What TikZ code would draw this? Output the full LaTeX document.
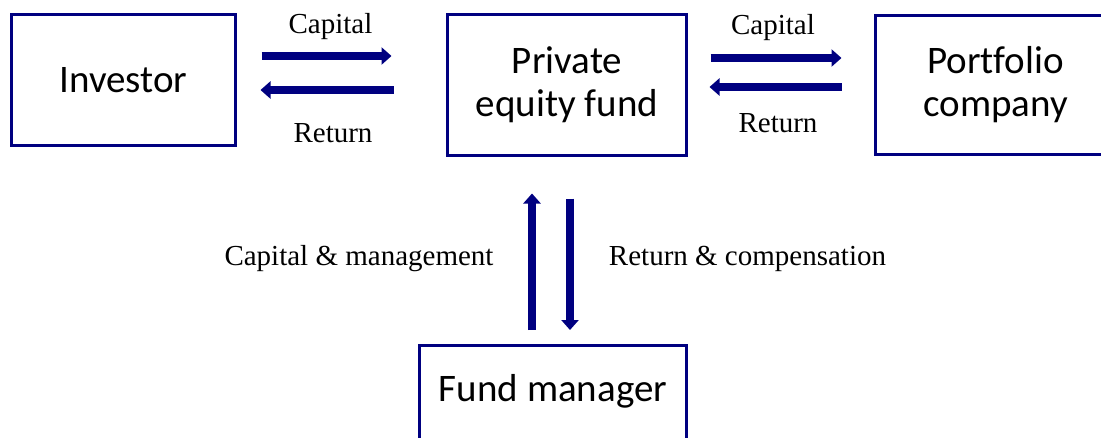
\documentclass[tikz,border=0pt]{standalone}
\usepackage{fontspec}
\setmainfont{Liberation Serif}
\newfontfamily\boxfont[Ligatures=NoCommon]{Carlito}
\usetikzlibrary{arrows.meta}
\definecolor{mynavy}{RGB}{0,0,128}
\begin{document}
\begin{tikzpicture}[x=1pt,y=-1pt,
  box/.style={draw=mynavy, line width=3pt, rectangle, inner sep=0pt, align=center,
    font=\boxfont\fontsize{39}{43}\selectfont},
  boxtext/.style={inner sep=0pt, font=\boxfont\fontsize{39}{43}\selectfont},
  lbl/.style={font=\fontsize{29}{33}\selectfont, anchor=base, inner sep=0pt},
  flow/.style={draw=mynavy, line width=8pt, -{Triangle[length=10pt,width=17pt]}}]
\useasboundingbox (0,0) rectangle (1101,437);
\clip (0,0) rectangle (1101,437);
\node[box, minimum width=224pt, minimum height=131pt] (inv) at (123.5,80) {Investor};
\node[box, minimum width=239pt, minimum height=141pt] (pe) at (567,85) {Private\\equity fund};
\node[box, minimum width=240pt, minimum height=139pt] (port) at (995.5,85) {Portfolio\\company};
\node[box, minimum width=267pt, minimum height=150pt, anchor=north] (fm) at (553,343.5) {};
\node[boxtext, anchor=base] (fmtext) at (553,401.7) {Fund manager};
% investor <-> PE
\draw[flow, shorten <=24.5pt, shorten >=54.5pt] (inv.east |- 0,56) -- (pe.west |- 0,56);
\draw[flow, shorten <=52.5pt, shorten >=23.5pt] (pe.west |- 0,90) -- (inv.east |- 0,90);
% PE <-> portfolio
\draw[flow, shorten <=22.5pt, shorten >=32.5pt] (pe.east |- 0,58) -- (port.west |- 0,58);
\draw[flow, shorten <=32.5pt, shorten >=21.5pt] (port.west |- 0,87) -- (pe.east |- 0,87);
% fund manager <-> PE
\draw[flow, shorten <=13.5pt, shorten >=36.5pt] (fm.north -| 532,0) -- (pe.south -| 532,0);
\draw[flow, shorten <=41.5pt, shorten >=13.5pt] (pe.south -| 570,0) -- (fm.north -| 570,0);
% labels
\node[lbl] (l1) at (330.5,33) {Capital};
\node[lbl] (l2) at (333,142) {Return};
\node[lbl] (l3) at (773,34.5) {Capital};
\node[lbl] (l4) at (778,132) {Return};
\node[lbl] (l5) at (359,265) {Capital \& management};
\node[lbl] (l6) at (747.5,265) {Return \& compensation};
\end{tikzpicture}
\end{document}
